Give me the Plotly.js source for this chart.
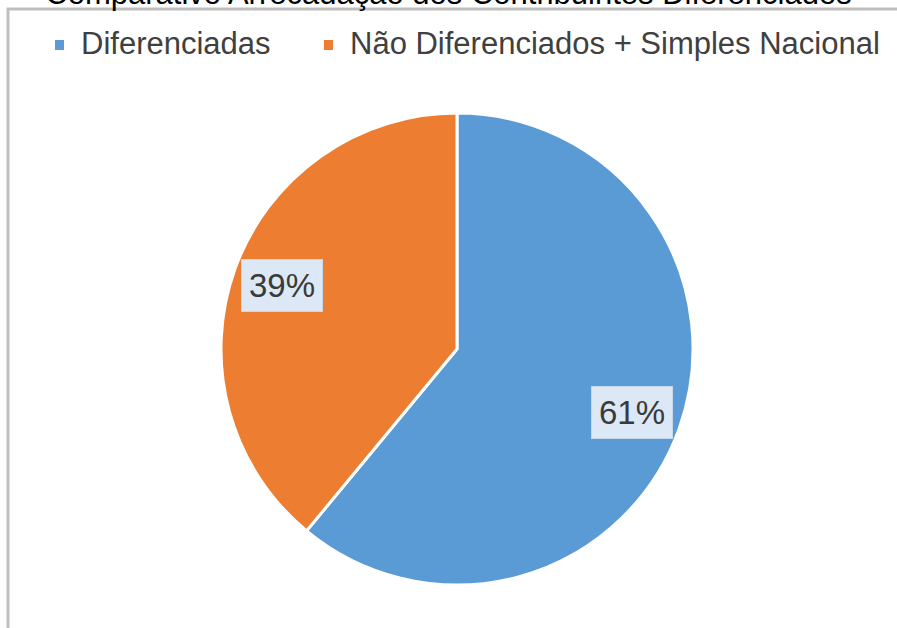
<!DOCTYPE html>
<html>
<head>
<meta charset="utf-8">
<script src="https://cdn.plot.ly/plotly-3.0.1.min.js"></script>
<style>html,body{margin:0;padding:0;background:#fff;}#chart{width:897px;height:628px;}</style>
</head>
<body>
<div id="chart"></div>
<script>
// Data
const categories = ["Diferenciadas", "Não Diferenciados + Simples Nacional"];
const values = [61, 39];
const colors = ["#5B9BD5", "#ED7D31"];
const titleText = "Comparativo Arrecadação dos Contribuintes Diferenciados";

const W = 897, H = 628;
const cx = 457, cy = 349, R = 236;
const dom = {x: [(cx - R) / W, (cx + R) / W], y: [1 - (cy + R) / H, 1 - (cy - R) / H]};

// percent labels placed at slice mid-angles (computed from data)
const total = values.reduce((a, b) => a + b, 0);
let cum = 0;
const annotations = values.map((v, i) => {
  const mid = (cum + v / 2) / total * 2 * Math.PI;
  cum += v;
  const px = cx + 0.79 * R * Math.sin(mid);
  const py = cy - 0.79 * R * Math.cos(mid);
  return {
    x: px / W, y: 1 - py / H, xref: "paper", yref: "paper",
    text: Math.round(v / total * 100) + "%", showarrow: false,
    font: {family: "Liberation Sans, Arial, sans-serif", size: 33, color: "#3a3a3a"},
    bgcolor: "#dce8f5", bordercolor: "#c5d8ec", borderwidth: 1, borderpad: 7,
    xanchor: "center", yanchor: "middle"
  };
});

// legend (text from categories, swatches from colors)
const legendTextX = [79, 348];
const legendY = 44;
const shapes = [{
  type: "rect", xref: "paper", yref: "paper",
  x0: 8 / W, x1: 1.2, y0: -0.2, y1: 1 - 9 / H,
  line: {color: "#bfbfbf", width: 3}, layer: "below"
}];
categories.forEach((c, i) => {
  annotations.push({
    x: legendTextX[i] / W, y: 1 - legendY / H, xref: "paper", yref: "paper",
    text: c, showarrow: false, xanchor: "left", yanchor: "middle",
    font: {family: "Liberation Sans, Arial, sans-serif", size: 31, color: "#404040"}
  });
  shapes.push({
    type: "rect", xref: "paper", yref: "paper",
    x0: (legendTextX[i] - 24) / W, x1: (legendTextX[i] - 15) / W,
    y0: 1 - 50 / H, y1: 1 - 40 / H,
    fillcolor: colors[i], line: {width: 0}
  });
});

const trace = {
  type: "pie",
  labels: categories,
  values: values,
  marker: {colors: colors, line: {color: "#ffffff", width: 3}},
  sort: false,
  direction: "clockwise",
  rotation: 0,
  textinfo: "none",
  hoverinfo: "label+percent",
  domain: dom
};

const layout = {
  width: W, height: H,
  margin: {l: 0, r: 0, t: 0, b: 0},
  paper_bgcolor: "#ffffff",
  title: {
    text: titleText,
    font: {family: "Liberation Sans, Arial, sans-serif", size: 31, color: "#000000"},
    x: 0.5, xanchor: "center", xref: "container",
    y: 1 - 4 / H, yref: "container", yanchor: "bottom"
  },
  showlegend: false,
  shapes: shapes,
  annotations: annotations
};

Plotly.newPlot("chart", [trace], layout, {displayModeBar: false, staticPlot: true});
</script>
</body>
</html>
